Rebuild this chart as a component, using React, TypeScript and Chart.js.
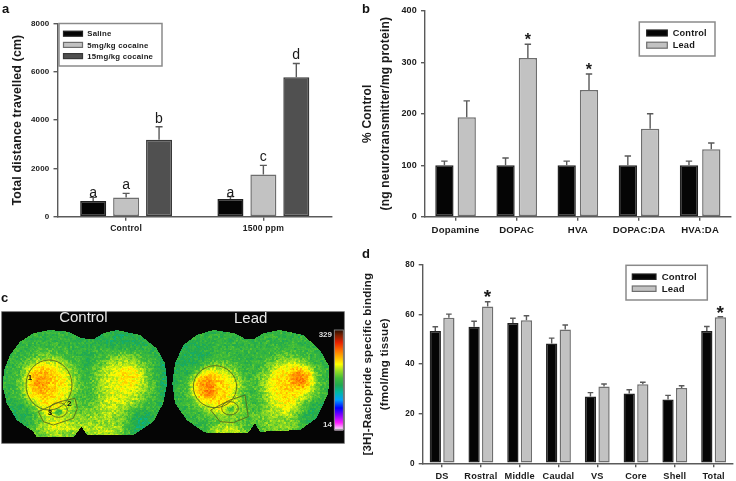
import React, { useEffect, useRef } from "react";
import { Chart, registerables } from "chart.js";
Chart.register(...registerables);

const SANS = '"Liberation Sans", Arial, sans-serif';
const BLACK = "#050505", LIGHT = "#c2c2c2", DARK = "#505050";
const EDGE_LIGHT = "#6e6e6e", EDGE_DARK = "#383838";

// Panel a
const catsA = ["Control", "1500 ppm"];
const seriesNamesA = ["Saline", "5mg/kg cocaine", "15mg/kg cocaine"];
const salineA = [648, 731];
const cocaine5A = [800, 1752];
const cocaine15A = [3186, 5779];
const salineTopA = [800, 830];
const cocaine5TopA = [965, 2124];
const cocaine15TopA = [3724, 6345];
const lettersA = [["a", "a"], ["a", "c"], ["b", "d"]];
const letterHeightA = [[800, 800], [1145, 2317], [3890, 6550]];

// Panel b
const catsB = ["Dopamine", "DOPAC", "HVA", "DOPAC:DA", "HVA:DA"];
const controlB = [100, 100, 100, 100, 100];
const leadB = [193, 308, 246, 171, 131];
const controlTopB = [108, 114, 108, 118, 108];
const leadTopB = [225, 335, 277, 200, 143];
const starsB = [["", "", "", "", ""], ["", "*", "*", "", ""]];
const starHeightB = [[0, 0, 0, 0, 0], [0, 347, 288, 0, 0]];

// Panel d
const catsD = ["DS", "Rostral", "Middle", "Caudal", "VS", "Core", "Shell", "Total"];
const controlD = [53.4, 55.1, 56.6, 48.3, 26.9, 28.2, 25.7, 53.4];
const leadD = [58.7, 63.3, 57.7, 54, 31, 31.9, 30.4, 58.9];
const controlTopD = [55.1, 57.3, 58.5, 50.5, 28.5, 29.7, 27.4, 55.2];
const leadTopD = [60.2, 65.2, 59.5, 55.8, 32, 32.7, 31.3, 59.1];
const starsD = [["", "", "", "", "", "", "", ""], ["", "*", "", "", "", "", "", "*"]];
const starHeightD = [[0, 0, 0, 0, 0, 0, 0, 0], [0, 67.9, 0, 0, 0, 0, 0, 61.6]];

// Panel c: autoradiograph (zoomed-reference coordinates, 3 units per page pixel)
const sliceLeft = [[245,175],[205,155],[150,150],[100,160],[60,185],[30,225],[12,270],[8,320],[20,370],[50,420],[100,455],[110,472],[220,472],[245,440],[262,466],[400,466],[460,425],[490,370],[502,310],[495,250],[470,205],[420,165],[350,150],[310,160],[280,178]];
const sliceRight = [[737,178],[705,160],[640,150],[590,165],[550,195],[525,250],[517,310],[525,370],[560,420],[610,455],[625,460],[745,458],[765,430],[780,455],[900,450],[950,415],[985,340],[988,260],[960,210],[910,165],[840,150],[790,160],[760,178]];
// each hotspot: centre x, centre y, radius x, radius y, strength
const hotspots = [
  [147,312,82,84,.2],[115,285,42,42,.055],[110,335,40,40,.035],[365,305,84,84,.155],[395,285,36,30,.045],
  [175,405,70,42,.08],[173,393,13,10,-.12],[175,450,85,32,.1],[310,425,70,70,.095],[330,460,50,30,.03],
  [500,290,28,90,-.05],[425,430,40,40,-.05],[380,180,85,35,-.035],[65,400,50,45,-.035],[255,240,20,70,-.02],
  [648,322,76,72,.205],[610,320,38,46,.09],[865,310,82,78,.2],[905,290,36,34,.1],
  [690,395,62,38,.07],[690,385,12,9,-.12],[680,455,62,28,.12],[835,420,75,60,.085],[580,235,60,60,-.03],[930,400,50,50,-.04],
];
const roiBlobs = [[147,315,69,75],[175,390,27,22],[645,320,65,63],[690,385,25,20]];
const roiPolys = [
  [[115,395],[180,365],[225,355],[232,385],[220,415],[160,435],[130,425]],
  [[632,390],[690,360],[735,345],[745,410],[700,428],[660,425]],
];
const roiNumbers = [["1",90,294],["2",208,372],["3",150,397]];
const colorStops: [number, string][] = [
  [0,"#fff0ff"],[.07,"#ff20ff"],[.15,"#8000ff"],[.22,"#0000ff"],[.3,"#00a0ff"],[.38,"#00b8a0"],
  [.45,"#20a850"],[.52,"#40bc38"],[.6,"#a0e020"],[.66,"#ffff00"],[.72,"#ffc000"],[.8,"#ff7000"],
  [.88,"#e82000"],[.95,"#802000"],[1,"#301000"],
];

function hex(c: string) { return [1, 3, 5].map((i) => parseInt(c.slice(i, i + 2), 16)); }
function colormap(v: number) {
  v = Math.max(0, Math.min(1, v));
  for (let i = 1; i < colorStops.length; i++) {
    if (v <= colorStops[i][0]) {
      const [a, ca] = colorStops[i - 1], [b, cb] = colorStops[i];
      const t = (v - a) / (b - a), p = hex(ca), q = hex(cb);
      return p.map((x, k) => x + (q[k] - x) * t);
    }
  }
  return hex("#301000");
}
function speckle(x: number, y: number) {
  const s = Math.sin(x * 12.9898 + y * 78.233) * 43758.5453;
  return s - Math.floor(s) - 0.5;
}

const errorAndMarks = (marks?: { text: string[][]; at: number[][]; font: string; shift: number }) => ({
  id: "errorAndMarks",
  afterDatasetsDraw(chart: any) {
    const { ctx, scales } = chart;
    chart.data.datasets.forEach((ds: any, i: number) => {
      const meta = chart.getDatasetMeta(i);
      meta.data.forEach((bar: any, j: number) => {
        const top = scales.y.getPixelForValue(ds.errTop[j]);
        ctx.save();
        ctx.strokeStyle = "#5a5a5a";
        ctx.lineWidth = 1.4;
        ctx.beginPath();
        ctx.moveTo(bar.x, bar.y);
        ctx.lineTo(bar.x, top);
        ctx.moveTo(bar.x - ds.cap, top);
        ctx.lineTo(bar.x + ds.cap, top);
        ctx.stroke();
        ctx.restore();
        const label = marks?.text[i]?.[j];
        if (label) {
          ctx.save();
          ctx.font = marks!.font;
          ctx.fillStyle = "#1a1a1a";
          ctx.textAlign = "center";
          ctx.textBaseline = "alphabetic";
          ctx.fillText(label, bar.x, scales.y.getPixelForValue(marks!.at[i][j]) + marks!.shift);
          ctx.restore();
        }
      });
    });
  },
});

const boxLegend = (l: any) => ({
  id: "boxLegend",
  afterDraw(chart: any) {
    const { ctx } = chart;
    ctx.save();
    ctx.fillStyle = "#fff";
    ctx.strokeStyle = "#8a8a8a";
    ctx.lineWidth = 1.5;
    ctx.fillRect(l.x, l.y, l.w, l.h);
    ctx.strokeRect(l.x, l.y, l.w, l.h);
    ctx.font = l.font;
    ctx.letterSpacing = l.spacing;
    ctx.textBaseline = "middle";
    chart.data.datasets.forEach((ds: any, i: number) => {
      const y = l.row0 + i * l.rowGap;
      ctx.fillStyle = ds.backgroundColor;
      ctx.strokeStyle = ds.borderColor;
      ctx.lineWidth = 1.2;
      ctx.fillRect(l.sx, y - l.sh / 2, l.sw, l.sh);
      ctx.strokeRect(l.sx, y - l.sh / 2, l.sw, l.sh);
      ctx.fillStyle = "#1a1a1a";
      ctx.fillText(ds.label, l.tx, y + 0.5);
    });
    ctx.restore();
  },
});

function barChart(canvas: HTMLCanvasElement, c: any) {
  return new Chart(canvas, {
    type: "bar",
    data: { labels: c.labels, datasets: c.datasets },
    options: {
      animation: false,
      responsive: false,
      layout: { padding: { top: c.top, right: c.right, left: 0, bottom: 0 } },
      plugins: { legend: { display: false }, tooltip: { enabled: false } },
      scales: {
        x: {
          afterFit: (s: any) => { s.height = c.xHeight; },
          grid: { offset: false, drawOnChartArea: false, tickLength: 4, color: "#5a5a5a", lineWidth: 1.4 },
          border: { color: "#5a5a5a", width: 1.4 },
          ticks: { color: "#1a1a1a", font: { family: SANS, weight: "bold", size: c.xFont }, padding: c.xPad, maxRotation: 0, autoSkip: false },
        },
        y: {
          min: 0, max: c.max,
          afterFit: (s: any) => { s.width = c.yWidth; },
          grid: { drawOnChartArea: false, tickLength: 4, color: "#5a5a5a", lineWidth: 1.4 },
          border: { color: "#5a5a5a", width: 1.4 },
          ticks: { stepSize: c.step, callback: (v: any) => String(v), color: "#1a1a1a", font: { family: SANS, weight: "bold", size: c.yFont }, padding: 4 },
          title: {
            display: true, text: c.title, color: "#1a1a1a",
            font: { family: SANS, weight: "bold", size: c.titleSize, lineHeight: c.titleLine },
            padding: { top: c.titlePad, bottom: 0 },
          },
        },
      },
    } as any,
    plugins: [
      { id: "spacing", beforeDraw(ch: any) { ch.ctx.letterSpacing = c.spacing; } },
      errorAndMarks(c.marks),
      boxLegend(c.legend),
    ] as any,
  });
}

const ds = (label: string, values: number[], tops: number[], fill: string, edge: string, cat: number, bar: number, cap: number) => ({
  label, data: values, errTop: tops, cap,
  backgroundColor: fill, borderColor: edge, borderWidth: 1.5, borderSkipped: false,
  categoryPercentage: cat, barPercentage: bar,
});

function imagePanel(canvas: HTMLCanvasElement) {
  return new Chart(canvas, {
    type: "scatter",
    data: { datasets: [{ data: [] }] },
    options: {
      animation: false,
      responsive: false,
      layout: { padding: 0 },
      plugins: { legend: { display: false }, tooltip: { enabled: false } },
      scales: {
        x: { display: false, type: "linear", min: 0, max: 1035 },
        y: { display: false, type: "linear", min: 0, max: 510, reverse: true },
      },
    } as any,
    plugins: [{
      id: "autoradiograph",
      beforeDatasetsDraw(chart: any) {
        const { ctx, scales } = chart;
        const X = (v: number) => scales.x.getPixelForValue(v);
        const Y = (v: number) => scales.y.getPixelForValue(v);
        const W = chart.width, H = chart.height;
        ctx.save();
        ctx.fillStyle = "#050505";
        ctx.fillRect(X(5), Y(95), X(1033) - X(5), Y(490) - Y(95));
        ctx.strokeStyle = "#777";
        ctx.lineWidth = 0.8;
        ctx.strokeRect(X(5), Y(95), X(1033) - X(5), Y(490) - Y(95));

        const off = document.createElement("canvas");
        off.width = W; off.height = H;
        const o = off.getContext("2d")!;
        const trace = (pts: number[][]) => {
          o.beginPath();
          pts.forEach(([a, b], i) => (i ? o.lineTo(X(a), Y(b)) : o.moveTo(X(a), Y(b))));
          o.closePath();
          o.fill();
        };
        o.fillStyle = "#fff";
        trace(sliceLeft);
        trace(sliceRight);
        const img = o.getImageData(0, 0, W, H);
        for (let py = 0; py < H; py++) {
          for (let px = 0; px < W; px++) {
            const k = (py * W + px) * 4;
            if (img.data[k + 3] < 128) { img.data[k + 3] = 0; continue; }
            const zx = scales.x.getValueForPixel(px), zy = scales.y.getValueForPixel(py);
            let v = 0.49;
            for (const [cx, cy, rx, ry, amp] of hotspots) {
              const d = ((zx - cx) / rx) ** 2 + ((zy - cy) / ry) ** 2;
              v += amp * Math.exp(-Math.pow(d, 1.7));
            }
            v += 0.12 * (0.65 * speckle(Math.floor(px / 2), Math.floor(py / 2)) + 0.35 * speckle(px, py));
            const col = colormap(v);
            img.data[k] = col[0]; img.data[k + 1] = col[1]; img.data[k + 2] = col[2]; img.data[k + 3] = 255;
          }
        }
        o.putImageData(img, 0, 0);
        ctx.filter = "blur(0.6px)";
        ctx.drawImage(off, 0, 0);
        ctx.filter = "none";

        ctx.strokeStyle = "#56681e";
        ctx.lineWidth = 0.9;
        roiBlobs.forEach(([cx, cy, rx, ry]) => {
          ctx.beginPath();
          ctx.ellipse(X(cx), Y(cy), X(cx + rx) - X(cx), Y(cy + ry) - Y(cy), 0, 0, Math.PI * 2);
          ctx.stroke();
        });
        roiPolys.forEach((pts) => {
          ctx.beginPath();
          pts.forEach(([a, b], i) => (i ? ctx.lineTo(X(a), Y(b)) : ctx.moveTo(X(a), Y(b))));
          ctx.closePath();
          ctx.stroke();
        });
        ctx.fillStyle = "#111";
        ctx.font = `bold 8px ${SANS}`;
        ctx.textAlign = "center";
        ctx.textBaseline = "middle";
        roiNumbers.forEach(([t, a, b]) => ctx.fillText(t as string, X(a as number), Y(b as number)));

        // colour bar
        const top = 150, bottom = 448;
        for (let y = top; y < bottom; y += 3) {
          const col = colormap(1 - (y - top) / (bottom - top));
          ctx.fillStyle = `rgb(${col[0]},${col[1]},${col[2]})`;
          ctx.fillRect(X(1003), Y(y), X(1030) - X(1003), Y(y + 3) - Y(y) + 0.5);
        }
        ctx.strokeStyle = "#888";
        ctx.strokeRect(X(1003), Y(top), X(1030) - X(1003), Y(bottom) - Y(top));

        ctx.fillStyle = "#ddd";
        ctx.font = `bold 8px ${SANS}`;
        ctx.textAlign = "right";
        ctx.fillText("329", X(996), Y(163));
        ctx.fillText("14", X(996), Y(434));
        ctx.fillStyle = "#e8e8e8";
        ctx.font = `15px ${SANS}`;
        ctx.textAlign = "center";
        ctx.fillText("Control", X(250), Y(113));
        ctx.fillText("Lead", X(752), Y(117));
        ctx.restore();
      },
    }] as any,
  });
}

const panelLetter = (text: string, left: number, top: number) => (
  <div key={text} style={{ position: "absolute", left, top, font: `bold 13px ${SANS}`, color: "#111", lineHeight: "13px" }}>{text}</div>
);

const place = (left: number, top: number): React.CSSProperties => ({ position: "absolute", left, top });

export default function App() {
  const a = useRef<HTMLCanvasElement>(null);
  const b = useRef<HTMLCanvasElement>(null);
  const c = useRef<HTMLCanvasElement>(null);
  const d = useRef<HTMLCanvasElement>(null);
  useEffect(() => {
    document.body.style.margin = "0";
    document.body.style.background = "#fff";
    const pitchA = [0.72, 0.79];
    const pitchB = [0.73, 0.82];
    const pitchD = [0.7, 0.83];
    const charts = [
      barChart(a.current!, {
        labels: catsA, max: 8000, step: 2000,
        datasets: [
          ds(seriesNamesA[0], salineA, salineTopA, BLACK, "#222", pitchA[0], pitchA[1], 3.5),
          ds(seriesNamesA[1], cocaine5A, cocaine5TopA, LIGHT, EDGE_LIGHT, pitchA[0], pitchA[1], 3.5),
          ds(seriesNamesA[2], cocaine15A, cocaine15TopA, DARK, EDGE_DARK, pitchA[0], pitchA[1], 3.5),
        ],
        top: 23.5, right: 13, yWidth: 57.5, xHeight: 23.3, xFont: 8.6, xPad: 3, yFont: 8, spacing: "0.2px",
        title: "Total distance travelled (cm)", titleSize: 12.3, titleLine: 1.2, titlePad: 10,
        marks: { text: lettersA, at: letterHeightA, font: `14px ${SANS}`, shift: 0 },
        legend: { x: 59, y: 23.5, w: 103, h: 42.5, font: `bold 7.8px ${SANS}`, spacing: "0.2px", sx: 63.5, sw: 19, sh: 5, tx: 87.3, row0: 33.7, rowGap: 11.2 },
      }),
      barChart(b.current!, {
        labels: catsB, max: 400, step: 100,
        datasets: [
          ds("Control", controlB, controlTopB, BLACK, "#222", pitchB[0], pitchB[1], 3.2),
          ds("Lead", leadB, leadTopB, LIGHT, EDGE_LIGHT, pitchB[0], pitchB[1], 3.2),
        ],
        top: 10.7, right: 5.3, yWidth: 70, xHeight: 23.3, xFont: 9.6, xPad: 4, yFont: 9, spacing: "0.2px",
        title: ["% Control", "(ng neurotransmitter/mg protein)"], titleSize: 12, titleLine: 1.5, titlePad: 4,
        marks: { text: starsB, at: starHeightB, font: `bold 16px ${SANS}`, shift: 7 },
        legend: { x: 284.3, y: 22, w: 75.7, h: 34, font: `bold 9.2px ${SANS}`, spacing: "0.2px", sx: 291.7, sw: 20.6, sh: 6, tx: 317.7, row0: 33, rowGap: 12.2 },
      }),
      barChart(d.current!, {
        labels: catsD, max: 80, step: 20,
        datasets: [
          ds("Control", controlD, controlTopD, BLACK, "#222", pitchD[0], pitchD[1], 2.8),
          ds("Lead", leadD, leadTopD, LIGHT, EDGE_LIGHT, pitchD[0], pitchD[1], 2.8),
        ],
        top: 15, right: 3, yWidth: 67.7, xHeight: 17.7, xFont: 9.2, xPad: 4, yFont: 8.2, spacing: "0.2px",
        title: ["[3H]-Raclopride specific binding", "(fmol/mg tissue)"], titleSize: 11.5, titleLine: 1.45, titlePad: 4.7,
        marks: { text: starsD, at: starHeightD, font: `bold 19px ${SANS}`, shift: 8.5 },
        legend: { x: 271, y: 15.3, w: 81.3, h: 34.7, font: `bold 9.6px ${SANS}`, spacing: "0.15px", sx: 277.3, sw: 23.7, sh: 5.4, tx: 306.7, row0: 26.7, rowGap: 12 },
      }),
      imagePanel(c.current!),
    ];
    return () => charts.forEach((x) => x.destroy());
  }, []);
  return (
    <div style={{ position: "fixed", left: 0, top: 0, width: 736, height: 481, background: "#fff", overflow: "hidden", filter: "blur(0.35px)" }}>
      <canvas ref={c} width={345} height={170} style={place(0, 280)} />
      <canvas ref={a} width={345} height={240} style={place(0, 0)} />
      <canvas ref={b} width={381} height={240} style={place(355, 0)} />
      <canvas ref={d} width={381} height={231} style={place(355, 250)} />
      {panelLetter("a", 2, 2)}
      {panelLetter("b", 362, 2)}
      {panelLetter("c", 1, 291)}
      {panelLetter("d", 362, 247)}
    </div>
  );
}
